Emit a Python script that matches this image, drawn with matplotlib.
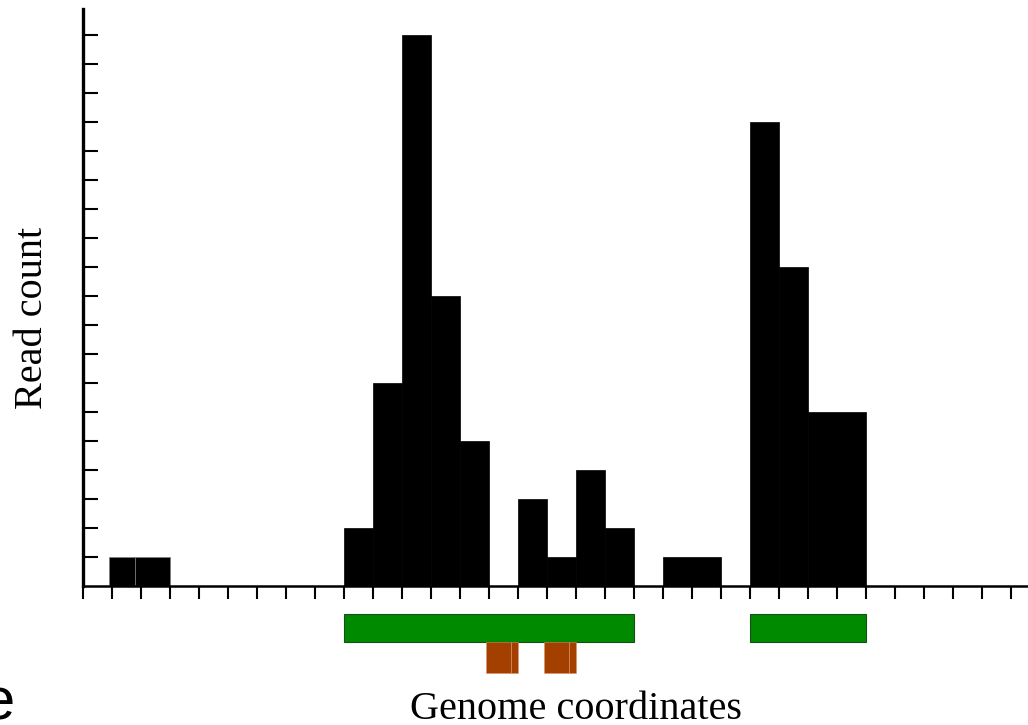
import matplotlib
matplotlib.use("Agg")
import matplotlib.pyplot as plt
from matplotlib.patches import Rectangle

# ---- data ----
# read-count histogram: bin left edges, widths, counts
bin_left = [0.9, 1.78, 9, 10, 11, 12, 13, 15, 16, 17, 18, 20, 23, 24, 25]
bin_width = [0.88, 1.22, 1, 1, 1, 1, 1, 1, 1, 1, 1, 2, 1, 1, 2]
read_count = [1, 1, 2, 7, 19, 10, 5, 3, 1, 4, 2, 1, 16, 11, 6]

# annotated features below the axis (start, end)
green_features = [(9, 19), (23, 27)]
orange_features = [(13.9, 14.75), (14.75, 15.0), (15.9, 16.75), (16.75, 17.0)]

y_ticks = list(range(1, 20))
x_ticks = list(range(0, 33))

W, H = 1028, 725
fig = plt.figure(figsize=(W / 100, H / 100), dpi=100)

unit = 29.0
x0_px = 83.0
y0_px = 585.7  # from top
xmax = (W - x0_px) / unit + 0.05
ymax = 19.9
ax = fig.add_axes([x0_px / W, (H - y0_px) / H, xmax * unit / W, ymax * unit / H])
ax.set_xlim(0, xmax)
ax.set_ylim(0, ymax)

edge_cols = ["#808080", "#808080"] + ["black"] * (len(read_count) - 2)
ax.bar(bin_left, read_count, width=bin_width, align="edge", color="black",
       edgecolor=edge_cols, linewidth=0.5, zorder=2)

for s, e in green_features:
    ax.add_patch(Rectangle((s, -1.95), e - s, 0.97, facecolor="#008a00",
                           edgecolor="#1a4d1a", linewidth=0.8, clip_on=False))
for s, e in orange_features:
    ax.add_patch(Rectangle((s, -3.0), e - s, 1.05, facecolor="#a34000",
                           edgecolor="#d9936a", linewidth=0.4, clip_on=False))

for side in ("top", "right"):
    ax.spines[side].set_visible(False)
ax.spines["left"].set_linewidth(2.4)
ax.spines["bottom"].set_linewidth(1.8)

ax.set_yticks(y_ticks)
ax.set_xticks(x_ticks)
ax.tick_params(axis="y", direction="in", length=10.5, width=1.5, labelleft=False)
ax.tick_params(axis="x", direction="out", length=9, width=1.5, labelbottom=False)

fig.text(33 / W, 1 - 318 / H, "Read count", rotation=90, ha="center", va="center",
         family="Liberation Serif", fontsize=29)
fig.text(576.5 / W, 6 / H, "Genome coordinates", ha="center", va="baseline",
         family="Liberation Serif", fontsize=29)
fig.text(15 / W, 6 / H, "e", ha="right", va="baseline",
         family="Liberation Sans", fontsize=43)

fig.savefig("out.png", dpi=100)
